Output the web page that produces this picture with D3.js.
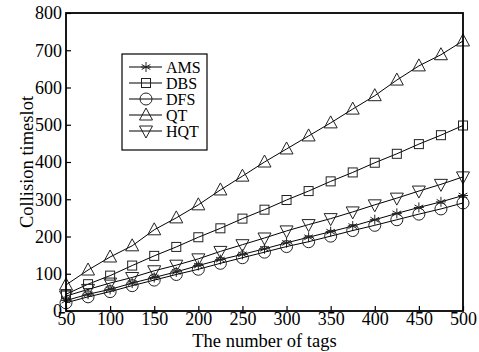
<!DOCTYPE html>
<html>
<head>
<meta charset="utf-8">
<script src="https://cdn.jsdelivr.net/npm/d3@7"></script>
<style>
  body { margin: 0; background: #fff; }
  text { font-family: "Liberation Serif", "Times New Roman", serif; fill: #000; }
</style>
</head>
<body>
<svg id="chart" width="479" height="352"></svg>
<script>
const tags = [50, 75, 100, 125, 150, 175, 200, 225, 250, 275, 300, 325, 350, 375, 400, 425, 450, 475, 500];
const ams = [28, 45, 58, 75, 90, 105, 122, 138, 152, 167, 183, 198, 213, 228, 245, 262, 278, 293, 310];
const dbs = [45, 72, 95, 122, 148, 172, 198, 222, 248, 272, 298, 322, 348, 372, 398, 422, 448, 472, 498];
const dfs = [22, 38, 52, 68, 83, 98, 112, 128, 143, 158, 173, 186, 201, 216, 230, 245, 260, 274, 290];
const qt = [70, 110, 145, 175, 218, 250, 285, 325, 362, 400, 435, 470, 505, 542, 578, 620, 658, 688, 725];
const hqt = [40, 58, 75, 90, 108, 123, 140, 160, 178, 196, 215, 232, 248, 266, 285, 303, 322, 340, 360];
const xTicks = [50, 100, 150, 200, 250, 300, 350, 400, 450, 500];
const yTicks = [0, 100, 200, 300, 400, 500, 600, 700, 800];

const series = [
  { name: 'AMS', values: ams, marker: 'star' },
  { name: 'DBS', values: dbs, marker: 'square' },
  { name: 'DFS', values: dfs, marker: 'circle' },
  { name: 'QT', values: qt, marker: 'up' },
  { name: 'HQT', values: hqt, marker: 'down' },
];

const margin = { left: 66, right: 16, top: 13, bottom: 41 };
const width = 479, height = 352;
const svg = d3.select('#chart');

const x = d3.scaleLinear().domain([50, 500]).range([margin.left, width - margin.right]);
const y = d3.scaleLinear().domain([0, 800]).range([height - margin.bottom, margin.top]);

function drawMarker(g, type, cx, cy) {
  const col = '#222';
  if (type === 'star') {
    const r = 5;
    const d = [0, 60, 120].map((a) => {
      const t = a * Math.PI / 180;
      return `M${cx - r * Math.sin(t)},${cy - r * Math.cos(t)}L${cx + r * Math.sin(t)},${cy + r * Math.cos(t)}`;
    }).join('') + `M${cx - r},${cy}L${cx + r},${cy}`;
    g.append('path').attr('d', d).attr('stroke', col).attr('stroke-width', 1).attr('fill', 'none');
  } else if (type === 'square') {
    g.append('rect').attr('x', cx - 4.5).attr('y', cy - 4.5).attr('width', 9).attr('height', 9)
      .attr('fill', 'none').attr('stroke', col).attr('stroke-width', 1);
  } else if (type === 'circle') {
    g.append('circle').attr('cx', cx).attr('cy', cy).attr('r', 6)
      .attr('fill', 'none').attr('stroke', col).attr('stroke-width', 1);
  } else if (type === 'up') {
    g.append('path').attr('d', `M${cx},${cy - 7}L${cx + 6.5},${cy + 5}L${cx - 6.5},${cy + 5}Z`)
      .attr('fill', 'none').attr('stroke', col).attr('stroke-width', 1);
  } else if (type === 'down') {
    g.append('path').attr('d', `M${cx},${cy + 7}L${cx + 6.5},${cy - 5}L${cx - 6.5},${cy - 5}Z`)
      .attr('fill', 'none').attr('stroke', col).attr('stroke-width', 1);
  }
}

const line = d3.line().x((d) => x(d[0])).y((d) => y(d[1]));

series.forEach((s) => {
  const pts = tags.map((t, i) => [t, s.values[i]]);
  svg.append('path').datum(pts).attr('d', line)
    .attr('fill', 'none').attr('stroke', '#000').attr('stroke-width', 1);
  const g = svg.append('g');
  pts.forEach((p) => drawMarker(g, s.marker, x(p[0]), y(p[1])));
});

// axes with inward ticks
const xAxis = svg.append('g').attr('transform', `translate(0,${y(0)})`)
  .call(d3.axisBottom(x).tickValues(xTicks).tickSizeInner(-5).tickSizeOuter(0).tickPadding(3));
const yAxis = svg.append('g').attr('transform', `translate(${x(50)},0)`)
  .call(d3.axisLeft(y).tickValues(yTicks).tickSizeInner(-5).tickSizeOuter(0).tickPadding(4));
[xAxis, yAxis].forEach((a) => {
  a.select('.domain').remove();
  a.selectAll('.tick line').attr('stroke', '#000').attr('stroke-width', 1.2);
  a.selectAll('text').style('font-family', '"Liberation Serif", serif').style('font-size', '18px').attr('fill', '#000');
});
xAxis.selectAll('text').attr('dy', '0.62em');

// frame
svg.append('rect').attr('x', x(50)).attr('y', y(800))
  .attr('width', x(500) - x(50)).attr('height', y(0) - y(800))
  .attr('fill', 'none').attr('stroke', '#000').attr('stroke-width', 1.8);

svg.append('text').attr('x', (x(50) + x(500)) / 2).attr('y', 347)
  .attr('text-anchor', 'middle').style('font-size', '18.5px').text('The number of tags');
svg.append('text').attr('transform', `translate(33,${(y(0) + y(800)) / 2}) rotate(-90)`)
  .attr('text-anchor', 'middle').style('font-size', '18.5px').text('Collision timeslot');

// legend
const lg = svg.append('g').attr('transform', 'translate(122,54)');
lg.append('rect').attr('width', 85).attr('height', 96)
  .attr('fill', '#fff').attr('stroke', '#000').attr('stroke-width', 1.2);
series.forEach((s, i) => {
  const cy = 13 + i * 16;
  lg.append('line').attr('x1', 7).attr('x2', 40).attr('y1', cy).attr('y2', cy)
    .attr('stroke', '#000').attr('stroke-width', 1);
  drawMarker(lg, s.marker, 24, cy);
  lg.append('text').attr('x', 44).attr('y', cy).attr('dy', '0.35em')
    .style('font-size', '16px').text(s.name);
});
</script>
</body>
</html>
